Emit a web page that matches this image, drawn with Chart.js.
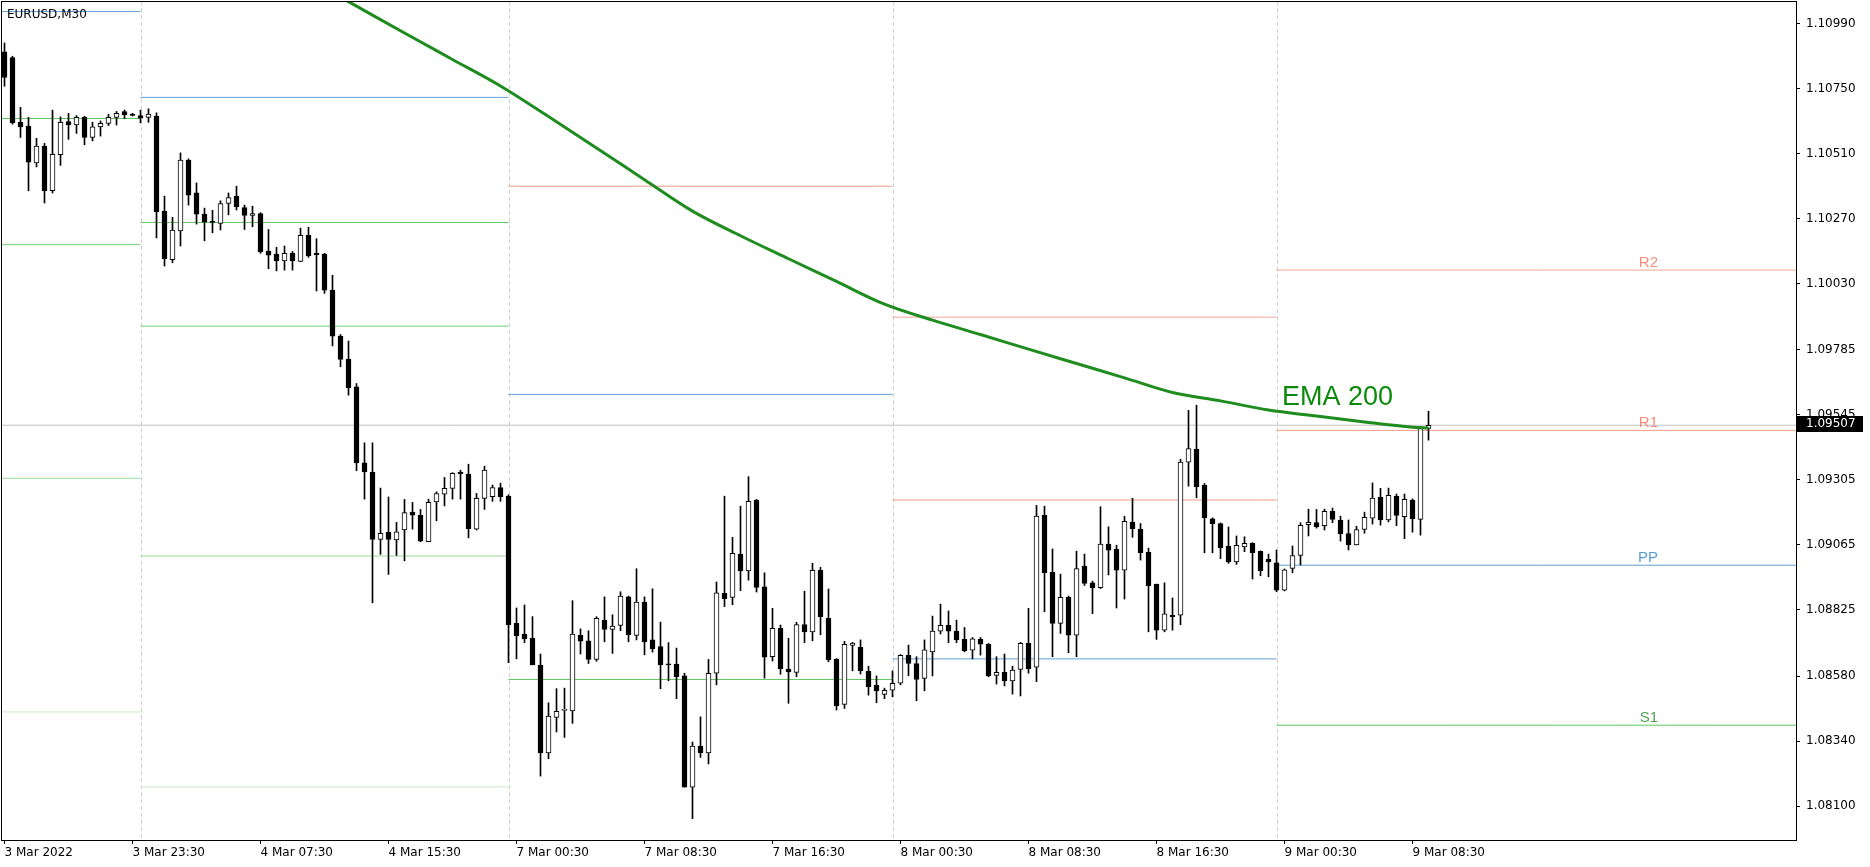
<!DOCTYPE html>
<html>
<head>
<meta charset="utf-8">
<script src="https://cdn.jsdelivr.net/npm/chart.js@4.4.0/dist/chart.umd.min.js"></script>
<style>
  html, body { margin: 0; padding: 0; background: #fff; }
  #wrap { width: 1870px; height: 867px; }
</style>
</head>
<body>
<div id="wrap"><canvas id="chart"></canvas></div>
<script>
// EURUSD M30, one entry per bar (bar 0 = 3 Mar 15:30)
const opens = [
  1.10886,1.10865,1.10626,1.10612,1.10476,1.10538,1.10373,1.10506,1.10629,1.10616,
  1.10644,1.10570,1.10609,1.10622,1.10644,1.10666,1.10656,1.10651,1.10644,1.10649,
  1.10298,1.10119,1.10225,1.10486,1.10365,1.10287,1.10261,1.10252,1.10326,1.10353,
  1.10311,1.10282,1.10289,1.10150,1.10139,1.10114,1.10142,1.10112,1.10208,1.10142,
  1.10139,1.10006,1.09836,1.09751,1.09649,1.09368,1.09333,1.09085,1.09111,1.09083,
  1.09120,1.09186,1.09174,1.09077,1.09224,1.09252,1.09274,1.09334,1.09327,1.09123,
  1.09237,1.09243,1.09277,1.09245,1.08775,1.08736,1.08720,1.08620,1.08297,1.08428,
  1.08454,1.08452,1.08731,1.08711,1.08642,1.08787,1.08753,1.08768,1.08873,1.08731,
  1.08854,1.08714,1.08689,1.08625,1.08625,1.08581,1.08170,1.08322,1.08297,1.08591,
  1.08886,1.08871,1.09031,1.08969,1.09231,1.08910,1.08652,1.08757,1.08606,1.08594,
  1.08771,1.08744,1.08971,1.08794,1.08642,1.08476,1.08694,1.08687,1.08598,1.08546,
  1.08513,1.08528,1.08554,1.08657,1.08627,1.08572,1.08670,1.08746,1.08768,1.08747,
  1.08716,1.08676,1.08716,1.08698,1.08583,1.08594,1.08563,1.08605,1.08701,1.08613,
  1.09174,1.08964,1.08775,1.08871,1.08732,1.08987,1.08925,1.08907,1.09068,1.09050,
  1.08972,1.09149,1.09123,1.09038,1.08920,1.08750,1.08805,1.08805,1.09371,1.09418,
  1.09285,1.09161,1.09144,1.09061,1.09002,1.09058,1.09071,1.09041,1.09012,1.08999,
  1.08898,1.08978,1.09026,1.09140,1.09147,1.09136,1.09189,1.09157,1.09107,1.09065,
  1.09122,1.09164,1.09241,1.09157,1.09244,1.09169,1.09231,1.09159,1.09495
];
const highs = [
  1.10919,1.10870,1.10681,1.10644,1.10567,1.10548,1.10671,1.10646,1.10659,1.10651,
  1.10648,1.10626,1.10631,1.10656,1.10666,1.10671,1.10659,1.10671,1.10676,1.10661,
  1.10353,1.10275,1.10513,1.10491,1.10402,1.10309,1.10301,1.10336,1.10365,1.10390,
  1.10320,1.10316,1.10292,1.10230,1.10164,1.10169,1.10149,1.10235,1.10238,1.10196,
  1.10142,1.10061,1.09842,1.09818,1.09661,1.09442,1.09442,1.09275,1.09242,1.09148,
  1.09233,1.09222,1.09196,1.09234,1.09261,1.09314,1.09332,1.09341,1.09363,1.09255,
  1.09356,1.09286,1.09293,1.09250,1.08832,1.08843,1.08800,1.08662,1.08482,1.08534,
  1.08536,1.08859,1.08755,1.08748,1.08800,1.08873,1.08807,1.08892,1.08876,1.08977,
  1.08873,1.08903,1.08780,1.08704,1.08684,1.08591,1.08337,1.08430,1.08642,1.08928,
  1.09245,1.09093,1.09208,1.09317,1.09233,1.08962,1.08831,1.08769,1.08720,1.08779,
  1.08894,1.08997,1.08982,1.08902,1.08645,1.08709,1.08705,1.08714,1.08617,1.08581,
  1.08536,1.08600,1.08660,1.08695,1.08652,1.08714,1.08802,1.08846,1.08821,1.08787,
  1.08760,1.08723,1.08723,1.08701,1.08652,1.08662,1.08617,1.08705,1.08831,1.09211,
  1.09208,1.09050,1.08957,1.08876,1.09042,1.09031,1.08931,1.09206,1.09132,1.09064,
  1.09171,1.09237,1.09144,1.09053,1.08920,1.08925,1.08869,1.09381,1.09562,1.09581,
  1.09292,1.09165,1.09146,1.09131,1.09098,1.09095,1.09073,1.09043,1.09031,1.09046,
  1.08976,1.09061,1.09147,1.09197,1.09196,1.09197,1.09201,1.09171,1.09157,1.09134,
  1.09186,1.09294,1.09274,1.09275,1.09253,1.09253,1.09235,1.09501,1.09559
];
const lows = [
  1.10759,1.10619,1.10570,1.10373,1.10461,1.10328,1.10365,1.10467,1.10563,1.10585,
  1.10543,1.10557,1.10575,1.10614,1.10616,1.10639,1.10649,1.10624,1.10626,1.10199,
  1.10095,1.10107,1.10169,1.10320,1.10250,1.10188,1.10218,1.10228,1.10284,1.10302,
  1.10230,1.10240,1.10142,1.10085,1.10077,1.10080,1.10080,1.10111,1.10127,1.10003,
  1.09994,1.09800,1.09723,1.09618,1.09339,1.09234,1.08851,1.09030,1.08956,1.09026,
  1.09006,1.09123,1.09077,1.09077,1.09154,1.09209,1.09234,1.09234,1.09091,1.09120,
  1.09196,1.09226,1.09226,1.08630,1.08644,1.08704,1.08622,1.08211,1.08275,1.08374,
  1.08354,1.08406,1.08662,1.08627,1.08635,1.08707,1.08664,1.08748,1.08707,1.08714,
  1.08659,1.08669,1.08534,1.08563,1.08497,1.08170,1.08054,1.08280,1.08256,1.08548,
  1.08837,1.08844,1.08896,1.08935,1.08891,1.08573,1.08636,1.08587,1.08480,1.08578,
  1.08704,1.08711,1.08733,1.08633,1.08455,1.08461,1.08600,1.08588,1.08510,1.08482,
  1.08497,1.08504,1.08548,1.08582,1.08489,1.08526,1.08581,1.08736,1.08704,1.08704,
  1.08670,1.08644,1.08658,1.08578,1.08551,1.08544,1.08514,1.08507,1.08591,1.08560,
  1.08818,1.08652,1.08738,1.08667,1.08652,1.08915,1.08811,1.08904,1.08954,1.08832,
  1.08865,1.09093,1.09009,1.08744,1.08716,1.08744,1.08750,1.08770,1.09282,1.09239,
  1.09036,1.09036,1.09014,1.08997,1.08993,1.09040,1.08939,1.08951,1.08947,1.08892,
  1.08895,1.08962,1.08991,1.09098,1.09127,1.09120,1.09147,1.09079,1.09046,1.09065,
  1.09108,1.09142,1.09138,1.09150,1.09136,1.09088,1.09112,1.09101,1.09452
];
const closes = [
  1.10792,1.10624,1.10609,1.10479,1.10538,1.10373,1.10508,1.10626,1.10616,1.10644,
  1.10570,1.10609,1.10622,1.10644,1.10659,1.10653,1.10651,1.10641,1.10656,1.10295,
  1.10122,1.10228,1.10486,1.10357,1.10287,1.10257,1.10256,1.10326,1.10348,1.10314,
  1.10282,1.10289,1.10147,1.10135,1.10114,1.10142,1.10114,1.10208,1.10132,1.10137,
  1.10006,1.09836,1.09750,1.09645,1.09368,1.09335,1.09085,1.09108,1.09085,1.09113,
  1.09184,1.09175,1.09079,1.09222,1.09255,1.09274,1.09329,1.09328,1.09125,1.09237,
  1.09341,1.09277,1.09243,1.08770,1.08729,1.08718,1.08622,1.08297,1.08433,1.08450,
  1.08457,1.08736,1.08709,1.08642,1.08794,1.08753,1.08765,1.08876,1.08733,1.08854,
  1.08707,1.08681,1.08622,1.08622,1.08578,1.08170,1.08322,1.08297,1.08591,1.08888,
  1.08866,1.09034,1.08969,1.09226,1.08908,1.08650,1.08757,1.08608,1.08596,1.08771,
  1.08744,1.08971,1.08800,1.08640,1.08470,1.08698,1.08702,1.08600,1.08541,1.08526,
  1.08528,1.08554,1.08657,1.08627,1.08568,1.08677,1.08747,1.08768,1.08746,1.08714,
  1.08674,1.08718,1.08698,1.08581,1.08594,1.08563,1.08603,1.08701,1.08608,1.09171,
  1.08962,1.08775,1.08871,1.08732,1.08978,1.08923,1.08906,1.09068,1.09046,1.08972,
  1.09152,1.09125,1.09036,1.08914,1.08750,1.08810,1.08800,1.09371,1.09421,1.09280,
  1.09165,1.09143,1.09054,1.09002,1.09063,1.09071,1.09036,1.08970,1.09002,1.08898,
  1.08973,1.09026,1.09137,1.09148,1.09132,1.09189,1.09159,1.09106,1.09065,1.09122,
  1.09167,1.09238,1.09157,1.09248,1.09174,1.09233,1.09162,1.09495,1.09507
];

// EMA 200 read at selected bars
const emaBars = [40, 44, 50, 56, 62, 68, 74, 80, 86, 92, 98, 104, 110, 116, 122, 128, 134, 140, 146, 152, 158, 164, 170, 176, 178];
const emaValues = [1.11121, 1.11055, 1.10956, 1.10858, 1.10760, 1.10647, 1.10531, 1.10414, 1.10298, 1.10207, 1.10122, 1.10038, 1.09954,
                   1.09895, 1.09842, 1.09788, 1.09735, 1.09682, 1.09628, 1.09597, 1.09563, 1.09541, 1.09519, 1.09500, 1.09497];

// daily pivot levels (null = off chart)
const dayStart = [-0.4375, 17, 63, 111, 159];
const dayEnd = [17, 63, 111, 159, 223.9375];
const pivR2 = [null, null, null, 1.09906, 1.10080];
const pivR1 = [null, null, 1.10390, 1.09231, 1.09488];
const pivPP = [1.11035, 1.10718, 1.09621, 1.08644, 1.08990];
const pivS1 = [1.10640, 1.10256, 1.08568, null, 1.08399];
const pivS2 = [1.10174, 1.09873, null, null, null];
const pivS3 = [1.09311, 1.09024, null, null, null];
const pivS4 = [1.08448, 1.08171, null, null, null];

const tickBars = [0, 16, 32, 48, 64, 80, 96, 112, 128, 144, 160, 176];
const tickLabels = ["3 Mar 2022", "3 Mar 23:30", "4 Mar 07:30", "4 Mar 15:30", "7 Mar 00:30", "7 Mar 08:30",
                    "7 Mar 16:30", "8 Mar 00:30", "8 Mar 08:30", "8 Mar 16:30", "9 Mar 00:30", "9 Mar 08:30"];
const priceTicks = [1.10990, 1.10750, 1.10510, 1.10270, 1.10030, 1.09785, 1.09545, 1.09305, 1.09065, 1.08825, 1.08580, 1.08340, 1.08100];
const daySeparators = [17, 63, 111, 159];

const lastPrice = closes[closes.length - 1];
const X_MIN = -0.4375, X_MAX = 223.9375;
const FONT = '"DejaVu Sans", sans-serif';

const levelSets = [
  { vals: pivR2, color: "#f4a897" },
  { vals: pivR1, color: "#f39a86" },
  { vals: pivPP, color: "#5f9fd9" },
  { vals: pivS1, color: "#5fc85f" },
  { vals: pivS2, color: "#72d072" },
  { vals: pivS3, color: "#9adb9a" },
  { vals: pivS4, color: "#c6e9c6" }
];

const datasets = [];
levelSets.forEach(set => {
  set.vals.forEach((v, d) => {
    if (v === null) return;
    datasets.push({
      type: "line",
      data: [{ x: dayStart[d], y: v }, { x: dayEnd[d], y: v }],
      borderColor: set.color,
      borderWidth: 1,
      pointRadius: 0,
      order: 10
    });
  });
});

datasets.push({
  type: "line",
  data: [{ x: X_MIN, y: lastPrice }, { x: X_MAX, y: lastPrice }],
  borderColor: "#c0c0c0",
  borderWidth: 1,
  pointRadius: 0,
  order: 9
});

datasets.push({
  type: "bar",
  data: highs.map((h, i) => ({ x: i, y: [lows[i], h] })),
  backgroundColor: "#000",
  barThickness: 1,
  grouped: false,
  order: 3
});

datasets.push({
  type: "bar",
  data: opens.map((o, i) => ({ x: i, y: [o, closes[i]] })),
  backgroundColor: ctx => (closes[ctx.dataIndex] >= opens[ctx.dataIndex] ? "#ffffff" : "#000000"),
  borderColor: "#000",
  borderWidth: 1,
  borderSkipped: false,
  barThickness: 5,
  minBarLength: 1,
  grouped: false,
  order: 2
});

datasets.push({
  type: "line",
  data: emaBars.map((b, i) => ({ x: b, y: emaValues[i] })),
  borderColor: "#1f8c1f",
  borderWidth: 3,
  pointRadius: 0,
  cubicInterpolationMode: "monotone",
  order: 1
});

const decorations = {
  id: "decorations",
  beforeDatasetsDraw(chart) {
    const { ctx, chartArea: a, scales: { x } } = chart;
    ctx.save();
    ctx.strokeStyle = "#cfcfcf";
    ctx.lineWidth = 1;
    ctx.setLineDash([4, 3]);
    daySeparators.forEach(b => {
      const px = Math.round(x.getPixelForValue(b)) + 0.5;
      ctx.beginPath();
      ctx.moveTo(px, a.top);
      ctx.lineTo(px, a.bottom);
      ctx.stroke();
    });
    ctx.restore();
  },
  afterDraw(chart) {
    const { ctx, chartArea: a, scales: { y } } = chart;
    ctx.save();
    // frame
    ctx.strokeStyle = "#000";
    ctx.lineWidth = 1;
    ctx.strokeRect(a.left + 0.5, a.top + 0.5, a.right - a.left, a.bottom - a.top);

    // symbol
    ctx.fillStyle = "#000";
    ctx.font = "12px " + FONT;
    ctx.textAlign = "left";
    ctx.textBaseline = "alphabetic";
    ctx.fillText("EURUSD,M30", 7, 18);

    // pivot labels for the last day
    ctx.font = '15px "Liberation Sans", Arial, sans-serif';
    ctx.textAlign = "right";
    const last = dayStart.length - 1;
    [["R2", pivR2[last], "#f28f7c"], ["R1", pivR1[last], "#f28f7c"], ["PP", pivPP[last], "#5b9bd5"], ["S1", pivS1[last], "#4fa64f"]]
      .forEach(([t, v, c]) => {
        ctx.fillStyle = c;
        ctx.fillText(t, 1658, y.getPixelForValue(v) - 3);
      });

    // EMA caption
    ctx.font = '27px "Liberation Sans", Arial, sans-serif';
    ctx.textAlign = "left";
    ctx.fillStyle = "#0b8a0b";
    ctx.fillText("EMA 200", 1282, 405);

    // current price box
    const py = y.getPixelForValue(lastPrice);
    ctx.fillStyle = "#000";
    ctx.fillRect(a.right + 1, Math.round(py) - 9, 66, 16);
    ctx.fillStyle = "#fff";
    ctx.font = "12px " + FONT;
    ctx.textBaseline = "middle";
    ctx.fillText(lastPrice.toFixed(5), 1806, Math.round(py) - 1);
    ctx.restore();
  }
};

new Chart(document.getElementById("chart"), {
  type: "bar",
  data: { datasets },
  options: {
    responsive: true,
    maintainAspectRatio: false,
    animation: false,
    devicePixelRatio: 1,
    layout: { padding: { left: 1, top: 1, right: 0, bottom: 0 } },
    plugins: { legend: { display: false }, tooltip: { enabled: false } },
    scales: {
      x: {
        type: "linear",
        min: X_MIN,
        max: X_MAX,
        offset: false,
        afterBuildTicks: scale => { scale.ticks = tickBars.map(v => ({ value: v })); },
        afterFit: scale => {
          scale.height = 27;
          scale.paddingLeft = 0;
          scale.paddingRight = 0;
        },
        grid: { offset: false, drawOnChartArea: false, drawTicks: true, tickLength: 4, color: "#000" },
        border: { display: false },
        ticks: {
          autoSkip: false,
          maxRotation: 0,
          align: "start",
          padding: 2,
          color: "#000",
          font: { family: FONT, size: 12 },
          callback: value => tickLabels[tickBars.indexOf(value)]
        }
      },
      y: {
        type: "linear",
        position: "right",
        min: 1.07975,
        max: 1.11074,
        afterBuildTicks: scale => { scale.ticks = priceTicks.map(v => ({ value: v })); },
        afterFit: scale => {
          scale.width = 74;
          scale.paddingTop = 0;
          scale.paddingBottom = 0;
        },
        grid: { drawOnChartArea: false, drawTicks: true, tickLength: 4, color: "#000" },
        border: { display: false },
        ticks: {
          autoSkip: false,
          padding: 6,
          color: "#000",
          font: { family: FONT, size: 12 },
          callback: value => value.toFixed(5)
        }
      }
    }
  },
  plugins: [decorations]
});
</script>
</body>
</html>
